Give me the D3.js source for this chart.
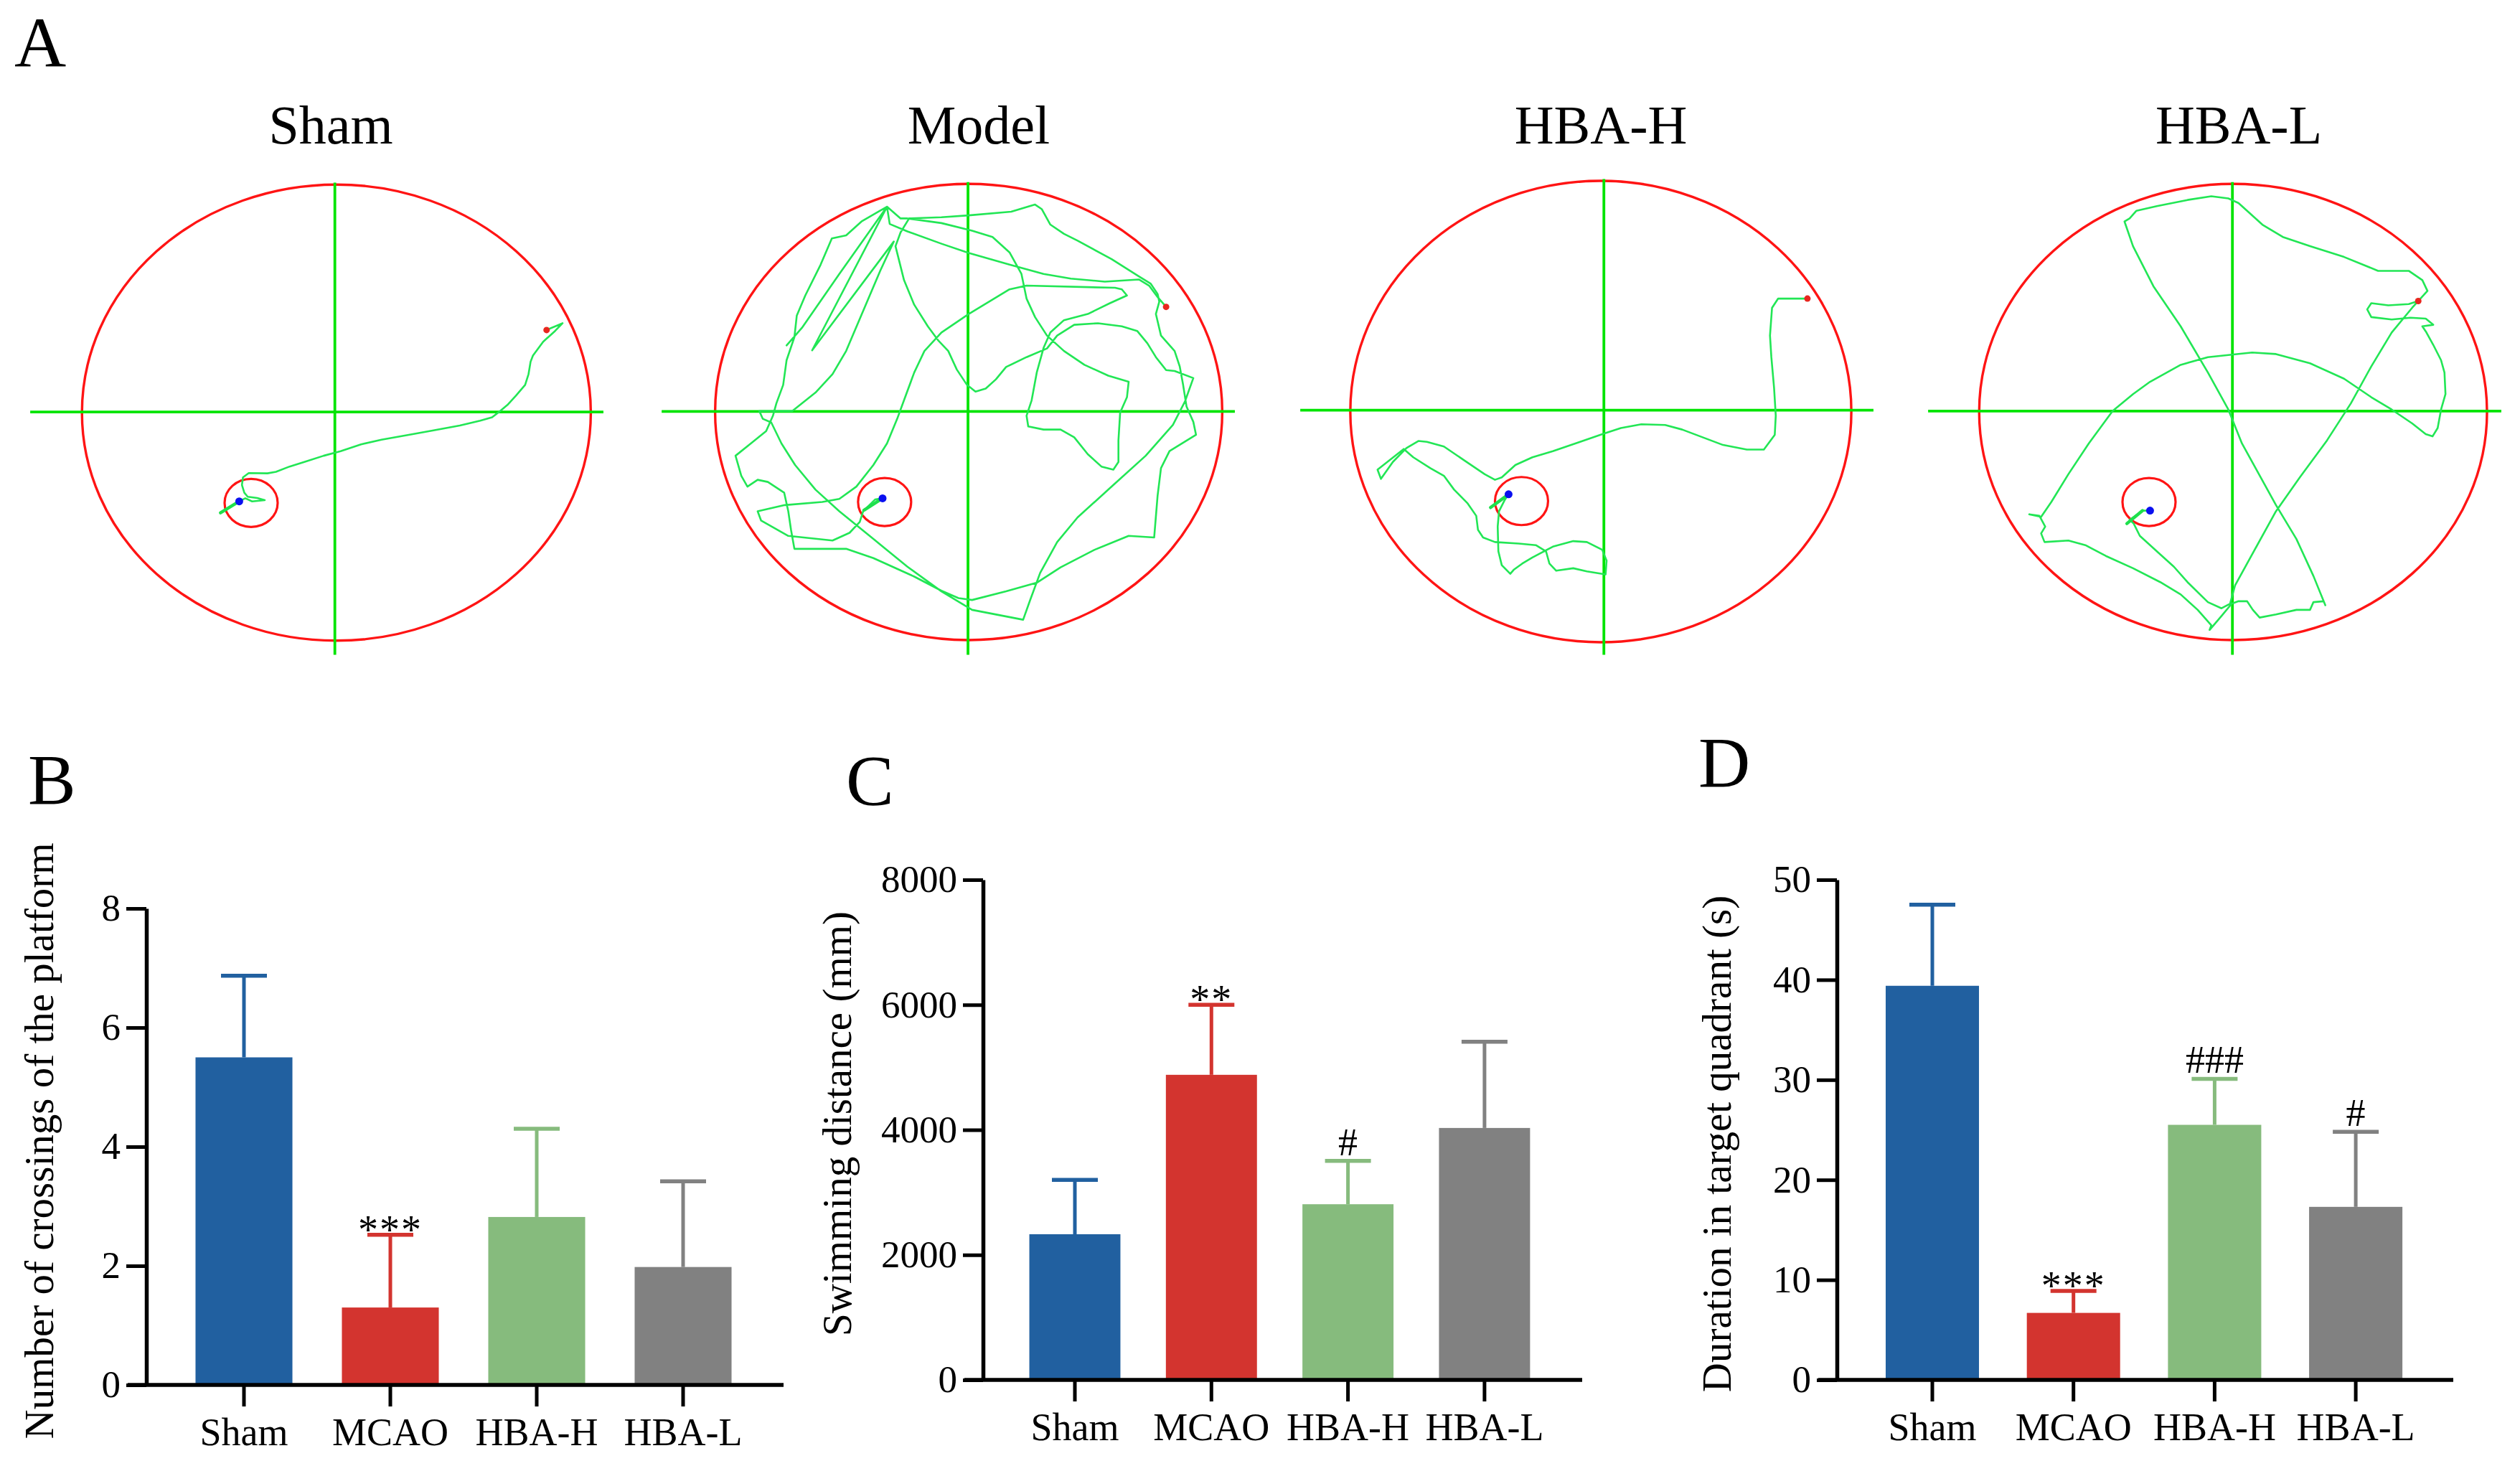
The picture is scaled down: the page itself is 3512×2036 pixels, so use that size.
<!DOCTYPE html>
<html>
<head>
<meta charset="utf-8">
<script src="https://cdn.jsdelivr.net/npm/d3@7"></script>
<style>
  body { margin: 0; background: #fff; }
  text { font-family: "Liberation Serif", "Times New Roman", serif; fill: #000; }
</style>
</head>
<body>
<div id="figure"></div>
<script>
// ===== data =====

// groups of the bar charts and titles of the swim-path panels
const groups = ["Sham", "MCAO", "HBA-H", "HBA-L"];
const trackTitles = ["Sham", "Model", "HBA-H", "HBA-L"];
const groupColors = ["#2160a0", "#d3342f", "#86bb7d", "#818181"];

// B: number of crossings of the platform (mean, SD)
const crossingsMean = [5.5, 1.3, 2.82, 1.98];
const crossingsSD = [1.37, 1.22, 1.48, 1.44];
const crossingsSig = ["", "***", "", ""];
const crossingsTicks = [0, 2, 4, 6, 8];

// C: swimming distance in mm (mean, SD)
const distanceMean = [2330, 4880, 2810, 4030];
const distanceSD = [870, 1120, 695, 1380];
const distanceSig = ["", "**", "#", ""];
const distanceTicks = [0, 2000, 4000, 6000, 8000];

// D: duration in target quadrant in s (mean, SD)
const durationMean = [39.4, 6.7, 25.5, 17.3];
const durationSD = [8.1, 2.2, 4.6, 7.5];
const durationSig = ["", "***", "###", "#"];
const durationTicks = [0, 10, 20, 30, 40, 50];

// A: swim paths in tracker pixels (x right, y down), one pool per group
const poolX = [[30, 1525], [35, 1525], [25, 1497], [28, 1520]];
const poolY = [[40, 1520], [38, 1518], [28, 1525], [38, 1518]];
const quadrantX = [773, 778, 770, 772];
const quadrantY = [778, 776, 772, 775];
const platformCenter = [[527, 1073], [533, 1070], [528, 1067], [527, 1070]];
const platformRadius = 78;

const shamTrack = [
  [1395,512],[1442,490],[1420,515],[1385,550],[1355,595],[1348,615],[1342,655],[1332,690],
  [1305,725],[1280,755],[1255,778],[1235,795],[1200,806],[1140,822],[1060,838],[990,852],
  [910,868],[850,883],[790,905],[740,920],[690,938],[640,955],[600,972],[575,977],[520,976],
  [503,990],[500,1015],[507,1040],[517,1053],[545,1057],[567,1064],[530,1068],[510,1058],[492,1068]
];

const modelTrack = [
  [1360,437],[1335,405],[1310,368],[1280,348],[1180,355],[1080,345],[1000,330],[900,300],
  [780,262],[700,232],[600,192],[548,168],[540,112],
  [400,330],[290,505],[245,562],[290,505],[400,330],[540,112],
  [320,578],[560,225],[520,320],[470,450],[420,580],[380,655],[330,715],[262,775],[165,775],
  [175,800],[200,812],[230,880],[270,950],[330,1030],[400,1100],[500,1190],[600,1280],
  [700,1360],[790,1420],[940,1452],[960,1390],[990,1300],[1040,1200],[1100,1120],[1200,1020],
  [1300,920],[1380,820],[1415,745],[1440,668],[1385,645],[1360,642],[1330,600],[1305,555],
  [1275,515],[1230,500],[1160,490],[1090,495],[1040,530],[1010,572],[950,600],[890,632],
  [860,672],[830,702],[800,712],[775,690],[745,640],[720,580],[690,545],[660,500],[620,430],
  [590,350],[565,240],[580,195],[605,150],[700,146],[780,140],[905,128],[975,105],[995,120],
  [1020,170],[1060,200],[1100,222],[1200,282],[1280,338],[1315,362],[1335,395],[1340,420],
  [1330,460],[1345,530],[1385,580],[1400,630],[1410,690],[1420,760],[1440,810],[1448,852],
  [1370,905],[1345,960],[1335,1050],[1325,1185],[1250,1180],[1150,1225],[1050,1282],[980,1332],
  [890,1360],[790,1388],[750,1382],[700,1358],[620,1312],[500,1252],[420,1222],[268,1222],
  [258,1160],[250,1100],[238,1040],[190,1005],[160,998],[130,1020],[112,985],[95,920],
  [140,880],[185,840],[205,790],[215,750],[235,690],[245,610],[268,535],[275,465],[300,400],
  [345,300],[378,215],[420,205],[465,160],[515,128],[540,112],
  [580,150],[600,150],[700,165],[790,190],[850,210],[900,260],[935,330],[950,410],[975,470],
  [1010,530],[1060,580],[1120,625],[1190,660],[1250,680],[1245,730],[1225,780],[1220,870],
  [1220,940],[1205,965],[1170,955],[1130,915],[1090,860],[1050,835],[1000,835],[955,825],
  [950,790],[965,740],[980,650],[1000,570],[1020,520],[1060,480],[1130,460],[1195,425],
  [1245,400],[1230,380],[1210,375],[950,368],[900,380],[780,460],[700,520],[650,580],
  [620,650],[590,740],[570,800],[540,880],[500,950],[450,1020],[400,1060],[350,1070],
  [240,1080],[160,1100],[170,1130],[250,1180],[380,1195],[430,1170],[460,1135],[470,1100],
  [505,1062],[527,1058]
];

const hbaHTrack = [
  [1368,410],[1340,410],[1282,410],[1264,440],[1258,530],[1262,600],[1270,700],[1275,790],
  [1272,852],[1240,900],[1190,900],[1120,885],[1060,860],[1000,835],[950,820],[880,818],
  [820,830],[770,848],[700,875],[620,905],[560,925],[510,950],[470,990],[450,998],[420,980],
  [360,935],[300,890],[250,875],[225,872],[190,895],[150,940],[115,995],[105,965],[182,898],
  [210,925],[260,960],[300,985],[330,1030],[370,1075],[395,1115],[400,1160],[415,1185],
  [450,1200],[520,1205],[570,1210],[600,1230],[610,1270],[630,1293],[680,1285],[720,1295],
  [775,1305],[778,1260],[765,1225],[720,1200],[680,1197],[620,1215],[560,1250],[530,1270],
  [505,1290],[495,1303],[470,1275],[460,1230],[458,1150],[462,1100],[478,1065],[490,1045]
];

const hbaLTrack = [
  [1318,418],[1290,428],[1230,432],[1180,425],[1168,445],[1180,470],[1240,478],[1295,472],
  [1340,475],[1362,495],[1330,500],[1342,520],[1362,560],[1385,610],[1395,650],[1398,720],
  [1385,770],[1375,830],[1360,857],[1340,850],[1300,815],[1240,770],[1180,730],[1100,670],
  [1000,620],[900,590],[830,585],[770,592],[700,600],[620,625],[530,680],[480,720],[420,775],
  [350,880],[290,980],[240,1070],[210,1118],[175,1110],[205,1115],[222,1150],[210,1172],
  [220,1200],[290,1195],[340,1210],[400,1245],[480,1285],[560,1330],[620,1370],[670,1420],
  [710,1470],[705,1485],[740,1440],[770,1400],[790,1392],[815,1392],[832,1420],[852,1445],
  [900,1435],[960,1420],[1000,1420],[1010,1395],[1040,1392],[1045,1405],[1010,1310],
  [960,1190],[900,1080],[850,980],[800,880],[760,770],[700,650],[620,500],[540,370],
  [480,240],[455,160],[470,150],[490,125],[550,110],[640,90],[710,78],[760,85],[790,100],
  [860,170],[920,210],[1000,240],[1100,275],[1200,320],[1290,320],[1330,350],[1345,385],
  [1300,440],[1240,520],[1180,630],[1120,750],[1050,870],[970,990],[900,1100],[840,1220],
  [780,1340],[765,1400],[740,1415],[700,1395],[640,1330],[600,1280],[540,1220],[500,1180],
  [482,1140],[470,1128],[508,1098],[530,1098]
];

const tracks = [shamTrack, modelTrack, hbaHTrack, hbaLTrack];
// short heading marks at the end of each path
const endTails = [[[492,1068],[437,1105]], [[527,1058],[472,1097]], [[490,1045],[437,1088]], [[508,1098],[462,1140]]];

// ===== drawing =====
const width = 3512;
const height = 2036;

const svg = d3.select("#figure")
  .append("svg")
  .attr("width", width)
  .attr("height", height)
  .style("display", "block")
  .style("background", "#fff");

svg.append("rect").attr("width", width).attr("height", height).attr("fill", "#fff");

// panel letters
const letters = [["A", 20, 93], ["B", 39, 1120], ["C", 1179, 1121], ["D", 2367, 1096]];
svg.selectAll("text.panel-letter")
  .data(letters)
  .enter()
  .append("text")
  .attr("class", "panel-letter")
  .attr("x", d => d[1])
  .attr("y", d => d[2])
  .style("font-size", "100px")
  .text(d => d[0]);

/**
 * 水迷路の軌跡パネルを1つ描く
 */
function drawTrackPanel(i) {
  const left = [100, 980, 1870, 2745][i];
  const titleX = [461, 1364, 2231, 3120][i];
  // tracker pixels -> page
  const x = d3.scaleLinear().domain([0, 1560]).range([left, left + 740]);
  const y = d3.scaleLinear().domain([0, 1560]).range([240, 910]);

  const g = svg.append("g");

  g.append("text")
    .attr("x", titleX)
    .attr("y", 200)
    .attr("text-anchor", "middle")
    .style("font-size", "76px")
    .text(trackTitles[i]);

  const pcx = (poolX[i][0] + poolX[i][1]) / 2;
  const pcy = (poolY[i][0] + poolY[i][1]) / 2;
  g.append("ellipse")
    .attr("cx", x(pcx))
    .attr("cy", y(pcy))
    .attr("rx", x(poolX[i][1]) - x(pcx))
    .attr("ry", y(poolY[i][1]) - y(pcy))
    .attr("fill", "none")
    .attr("stroke", "#ff1414")
    .attr("stroke-width", 3.4);

  // quadrant lines
  g.append("line")
    .attr("x1", x(-122)).attr("x2", x(1562))
    .attr("y1", y(quadrantY[i])).attr("y2", y(quadrantY[i]))
    .attr("stroke", "#00e400").attr("stroke-width", 3.8);
  g.append("line")
    .attr("x1", x(quadrantX[i])).attr("x2", x(quadrantX[i]))
    .attr("y1", y(poolY[i][0] - 6)).attr("y2", y(1566))
    .attr("stroke", "#00e400").attr("stroke-width", 3.8);

  // platform
  g.append("ellipse")
    .attr("cx", x(platformCenter[i][0]))
    .attr("cy", y(platformCenter[i][1]))
    .attr("rx", x(platformRadius) - x(0))
    .attr("ry", y(platformRadius) - y(0))
    .attr("fill", "none")
    .attr("stroke", "#ff1414")
    .attr("stroke-width", 3.2);

  const line = d3.line().x(d => x(d[0])).y(d => y(d[1]));
  g.append("path")
    .attr("d", line(tracks[i]))
    .attr("fill", "none")
    .attr("stroke", "#22e655")
    .attr("stroke-width", 2.6)
    .attr("stroke-linejoin", "round");

  g.append("path")
    .attr("d", line(endTails[i]))
    .attr("stroke", "#1ee04c")
    .attr("stroke-width", 4.5)
    .attr("stroke-linecap", "round");

  const start = tracks[i][0];
  const end = tracks[i][tracks[i].length - 1];
  g.append("circle").attr("cx", x(start[0])).attr("cy", y(start[1])).attr("r", 4.5).attr("fill", "#e8261e");
  g.append("circle").attr("cx", x(end[0])).attr("cy", y(end[1])).attr("r", 5.5).attr("fill", "#0a10f0");
}

for (let i = 0; i < 4; i++) {
  drawTrackPanel(i);
}

/**
 * 棒グラフ(平均+SD)を1つ描く
 */
function drawBarPanel(p) {
  const g = svg.append("g");
  const step = (p.centers[1] - p.centers[0]);
  const x = d3.scaleBand()
    .domain(groups)
    .range([p.centers[0] - step / 2, p.centers[1] + step * 2.5])
    .paddingInner(p.pad)
    .paddingOuter(p.pad / 2);
  const y = d3.scaleLinear()
    .domain([0, p.ticks[p.ticks.length - 1]])
    .range(p.yRange);

  const rows = groups.map((k, i) => ({
    key: k, mean: p.mean[i], sd: p.sd[i], sig: p.sig[i], color: groupColors[i]
  }));

  g.selectAll("rect.bar")
    .data(rows)
    .enter()
    .append("rect")
    .attr("class", "bar")
    .attr("x", d => x(d.key))
    .attr("width", x.bandwidth())
    .attr("y", d => y(d.mean))
    .attr("height", d => y(0) - y(d.mean))
    .attr("fill", d => d.color);

  // error bars (upper only)
  const cap = 32;
  g.selectAll("line.err")
    .data(rows)
    .enter()
    .append("line")
    .attr("class", "err")
    .attr("x1", d => x(d.key) + x.bandwidth() / 2)
    .attr("x2", d => x(d.key) + x.bandwidth() / 2)
    .attr("y1", d => y(d.mean))
    .attr("y2", d => y(d.mean + d.sd))
    .attr("stroke", d => d.color)
    .attr("stroke-width", 5);
  g.selectAll("line.cap")
    .data(rows)
    .enter()
    .append("line")
    .attr("class", "cap")
    .attr("x1", d => x(d.key) + x.bandwidth() / 2 - cap)
    .attr("x2", d => x(d.key) + x.bandwidth() / 2 + cap)
    .attr("y1", d => y(d.mean + d.sd))
    .attr("y2", d => y(d.mean + d.sd))
    .attr("stroke", d => d.color)
    .attr("stroke-width", 5.5);

  // significance marks
  g.selectAll("text.sig")
    .data(rows.filter(d => d.sig !== ""))
    .enter()
    .append("text")
    .attr("class", "sig")
    .attr("x", d => x(d.key) + x.bandwidth() / 2)
    .attr("y", d => y(d.mean + d.sd) + (d.sig[0] === "*" ? 12 : -8))
    .attr("text-anchor", "middle")
    .style("font-size", d => d.sig[0] === "*" ? "56px" : "54px")
    .style("letter-spacing", d => d.sig[0] === "*" ? "2px" : "0px")
    .text(d => d.sig);

  // y axis
  const yAxis = d3.axisLeft(y)
    .tickValues(p.ticks)
    .tickFormat(d3.format("d"))
    .tickSize(28)
    .tickPadding(8)
    .tickSizeOuter(0);
  const ya = g.append("g")
    .attr("transform", `translate(${p.axisX},0)`)
    .call(yAxis);
  ya.select(".domain").attr("stroke", "#000").attr("stroke-width", 5.5);
  ya.selectAll(".tick line").attr("stroke", "#000").attr("stroke-width", 5);
  ya.selectAll(".tick text").style("font-size", "53px").attr("fill", "#000");

  // x axis
  const xAxis = d3.axisBottom(x)
    .tickSize(30)
    .tickPadding(16)
    .tickSizeOuter(0);
  const xa = g.append("g")
    .attr("transform", `translate(0,${y(0)})`)
    .call(xAxis);
  xa.select(".domain").remove();
  xa.selectAll(".tick line").attr("stroke", "#000").attr("stroke-width", 5);
  xa.selectAll(".tick text").style("font-size", "54px").attr("fill", "#000");
  g.append("line")
    .attr("x1", p.axisX - 26)
    .attr("x2", p.axisEnd)
    .attr("y1", y(0))
    .attr("y2", y(0))
    .attr("stroke", "#000")
    .attr("stroke-width", 5.5);

  g.append("text")
    .attr("transform", `translate(${p.labelX},${p.labelY}) rotate(-90)`)
    .attr("text-anchor", "middle")
    .style("font-size", "57px")
    .text(p.label);
}

drawBarPanel({
  mean: crossingsMean, sd: crossingsSD, sig: crossingsSig, ticks: crossingsTicks,
  centers: [340, 544], pad: 0.338, yRange: [1930, 1266],
  axisX: 204, axisEnd: 1092,
  label: "Number of crossings of the platform", labelX: 74, labelY: 1590
});

drawBarPanel({
  mean: distanceMean, sd: distanceSD, sig: distanceSig, ticks: distanceTicks,
  centers: [1498, 1688.3], pad: 0.333, yRange: [1923, 1226],
  axisX: 1370, axisEnd: 2205,
  label: "Swimming distance (mm)", labelX: 1186, labelY: 1566
});

drawBarPanel({
  mean: durationMean, sd: durationSD, sig: durationSig, ticks: durationTicks,
  centers: [2693, 2889.7], pad: 0.339, yRange: [1923, 1226],
  axisX: 2560, axisEnd: 3419,
  label: "Duration in target quadrant (s)", labelX: 2412, labelY: 1594
});
</script>
</body>
</html>
